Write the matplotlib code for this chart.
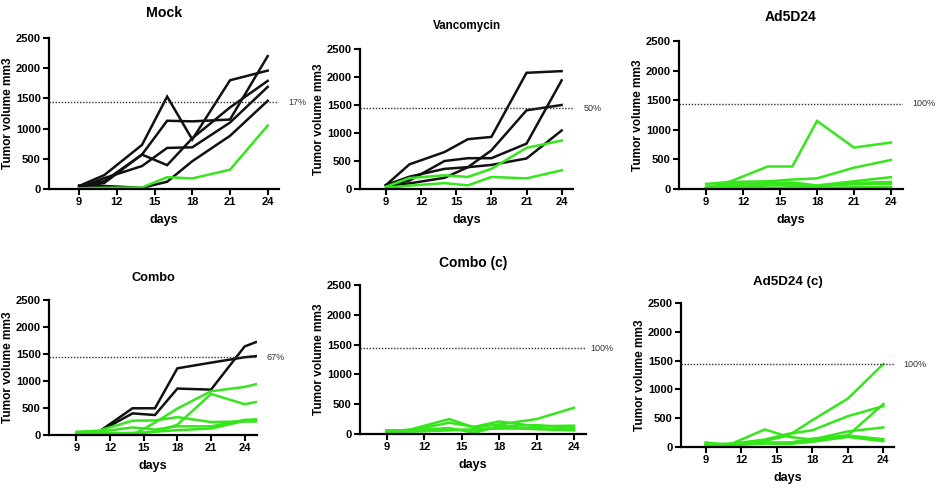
import matplotlib
matplotlib.use("Agg")
import matplotlib.pyplot as plt

plt.rcParams['font.family'] = ['Liberation Sans', 'DejaVu Sans']

BLACK = '#111111'
GREEN = '#36e51c'

days = [9, 11, 14, 16, 18, 21, 24]
combo_days = [9, 11, 14, 16, 18, 21, 24, 25]

# tumour volumes per mouse (mm3); black = grew past threshold, green = did not
mock_black = [
    [50, 230, 730, 1530, 820, 1800, 1960],
    [40, 130, 570, 1130, 1120, 1150, 2200],
    [30, 100, 570, 395, 840, 1350, 1790],
    [20, 180, 380, 680, 690, 1100, 1690],
    [60, 50, 20, 120, 460, 880, 1460],
]
mock_green = [
    [10, 20, 25, 195, 175, 320, 1050],
]

vanco_black = [
    [70, 440, 660, 890, 930, 2075, 2105],
    [70, 150, 500, 550, 550, 810, 1940],
    [60, 100, 200, 390, 690, 1405, 1500],
    [70, 220, 360, 390, 430, 545, 1045],
]
vanco_green = [
    [40, 195, 245, 215, 360, 735, 865],
    [20, 60, 105, 65, 215, 190, 335],
]

ad5_black = []
ad5_green = [
    [15, 130, 380, 380, 1150, 700, 785],
    [85, 120, 130, 160, 180, 360, 490],
    [20, 60, 100, 110, 60, 130, 200],
    [40, 80, 90, 70, 40, 100, 120],
    [10, 30, 60, 80, 50, 80, 90],
    [5, 10, 20, 30, 20, 30, 30],
]

combo_black = [
    [10, 60, 495, 495, 1235, 1340, 1440, 1460],
    [10, 60, 400, 370, 860, 840, 1640, 1720],
]
combo_green = [
    [10, 20, 0, 230, 490, 810, 890, 940],
    [30, 40, 20, 60, 190, 760, 570, 610],
    [60, 80, 265, 270, 330, 240, 250, 250],
    [40, 60, 140, 100, 160, 160, 280, 290],
    [20, 30, 40, 60, 90, 120, 260, 270],
]

comboc_black = []
comboc_green = [
    [30, 80, 250, 110, 160, 250, 440],
    [60, 60, 190, 120, 210, 130, 140],
    [60, 60, 100, 20, 130, 150, 100],
    [50, 40, 60, 80, 90, 100, 70],
    [20, 50, 80, 60, 110, 80, 60],
]

ad5c_black = []
ad5c_green = [
    [30, 60, 105, 200, 465, 840, 1440],
    [60, 50, 130, 230, 290, 535, 710],
    [80, 30, 80, 70, 145, 200, 745],
    [40, 40, 305, 175, 130, 270, 340],
    [50, 40, 70, 80, 100, 200, 135],
    [40, 30, 60, 50, 90, 175, 100],
]

threshold = 1440
titles = ['Mock', 'Vancomycin', 'Ad5D24', 'Combo', 'Combo (c)', 'Ad5D24 (c)']
pct_labels = ['17%', '50%', '100%', '67%', '100%', '100%']

W, H = 936, 488
fig = plt.figure(figsize=(W / 100, H / 100), dpi=100)

# left, top, right, bottom in pixels; x-limits; title size/centre; pct label x
panels = [
    dict(box=(49, 38, 279, 189), xlim=(6.6, 24.9), days=days,
         black=mock_black, green=mock_green, tsize=10.2, ty=13, px=297),
    dict(box=(360, 49, 573, 189), xlim=(6.78, 24.97), days=days,
         black=vanco_black, green=vanco_green, tsize=8.4, ty=26, px=593),
    dict(box=(679, 41, 903, 189), xlim=(6.8, 24.98), days=days,
         black=ad5_black, green=ad5_green, tsize=10, ty=17, px=924),
    dict(box=(49, 300, 257, 435), xlim=(6.55, 25.1), days=combo_days,
         black=combo_black, green=combo_green, tsize=9.2, ty=278, px=276),
    dict(box=(360, 285, 586, 434), xlim=(6.87, 24.96), days=days,
         black=comboc_black, green=comboc_green, tsize=10, ty=263, px=602),
    dict(box=(681, 303, 894, 447), xlim=(6.91, 24.9), days=days,
         black=ad5c_black, green=ad5c_green, tsize=9.6, ty=282, px=915),
]

for p, title, pct in zip(panels, titles, pct_labels):
    l, t, r, b = p['box']
    ax = fig.add_axes([l / W, 1 - b / H, (r - l) / W, (b - t) / H])
    for s in p['black']:
        ax.plot(p['days'], s, color=BLACK, lw=1.8, solid_joinstyle='miter')
    for s in p['green']:
        ax.plot(p['days'], s, color=GREEN, lw=1.8, solid_joinstyle='miter')
    ax.axhline(threshold, color='#333333', lw=1.0, ls=(0, (1, 1.2)))
    ax.set_xlim(*p['xlim'])
    ax.set_ylim(0, 2500)
    ax.set_xticks([9, 12, 15, 18, 21, 24])
    ax.set_yticks([0, 500, 1000, 1500, 2000, 2500])
    for side in ('top', 'right'):
        ax.spines[side].set_visible(False)
    for side in ('left', 'bottom'):
        ax.spines[side].set_linewidth(1.6)
    ax.tick_params(direction='out', length=4, width=1.5, pad=2, labelsize=8)
    for lab in ax.get_xticklabels() + ax.get_yticklabels():
        lab.set_fontweight('bold')
    ax.set_xlabel('days', fontsize=9, fontweight='bold', labelpad=5)
    ax.set_ylabel('Tumor volume mm3', fontsize=8.6, fontweight='bold', labelpad=1)
    fig.text((l + r) / 2 / W, 1 - p['ty'] / H, title, fontsize=p['tsize'],
             fontweight='bold', ha='center', va='center')
    ty_line = b - (b - t) * threshold / 2500
    fig.text(p['px'] / W, 1 - ty_line / H, pct, fontsize=6.5, color='#333333',
             ha='center', va='center')

fig.savefig('out.png', dpi=100)
